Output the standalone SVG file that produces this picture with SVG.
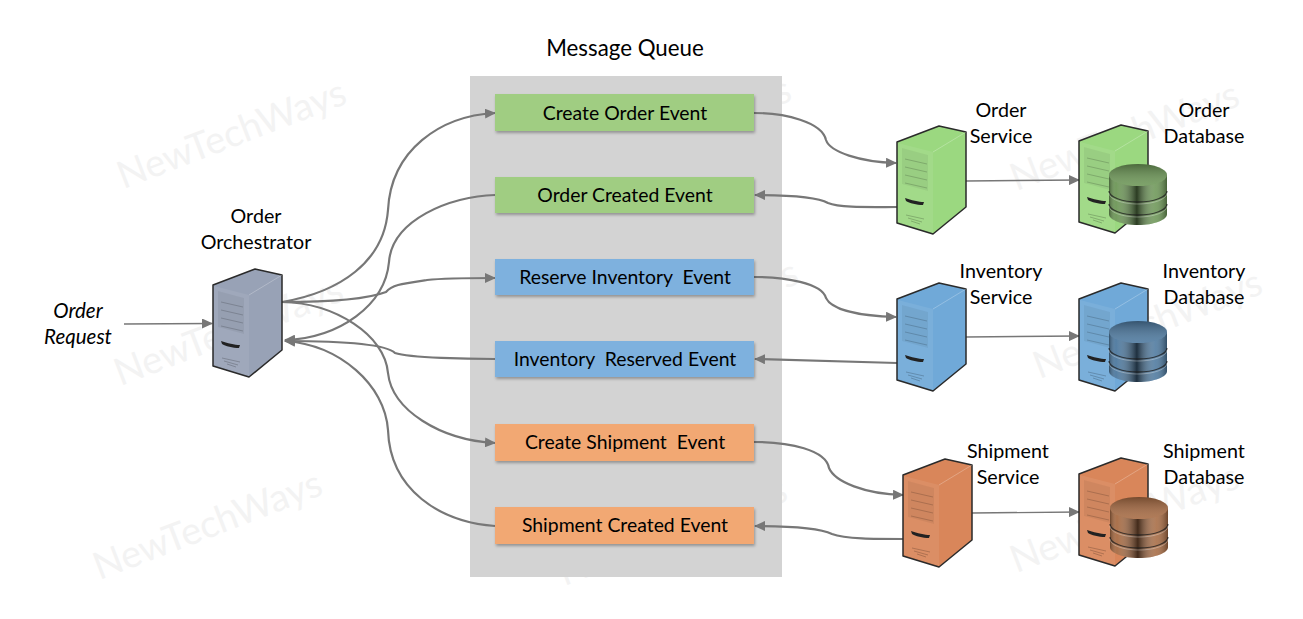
<svg xmlns="http://www.w3.org/2000/svg" width="1303" height="619" viewBox="0 0 1303 619">
<style>
text{font-family:"Lato","Liberation Sans",sans-serif;fill:#000;text-anchor:middle;white-space:pre}
.t{font-size:19.700px}
.ev{font-size:19.400px}
.wm{font-size:38px;fill:#f3f3f3}
.c{fill:none;stroke:#777;stroke-width:2.200}
.thin{stroke-width:1.400}
.a{marker-end:url(#ah)}
.box{filter:url(#sh)}
.green{color:#9bd880}
.blue{color:#70a9d8}
.orange{color:#d9865a}
.gray{color:#98a2b6}
</style>
<defs>
<marker id="ah" viewBox="0 0 11 10" refX="10" refY="5" markerWidth="11" markerHeight="10" markerUnits="userSpaceOnUse" orient="auto"><path d="M0 0L11 5L0 10Z" fill="#777"/></marker>
<filter id="sh" x="-5%" y="-20%" width="110%" height="150%"><feDropShadow dx="1" dy="2" stdDeviation="1.500" flood-color="#000" flood-opacity=".3"/></filter>
<linearGradient id="cg" x1="0" x2="1" y1="0" y2="0"><stop offset="0" stop-color="#000" stop-opacity=".35"/><stop offset=".12" stop-color="#fff" stop-opacity=".05"/><stop offset=".48" stop-color="#000" stop-opacity=".6"/><stop offset=".8" stop-color="#fff" stop-opacity=".12"/><stop offset="1" stop-color="#000" stop-opacity=".35"/></linearGradient>
<linearGradient id="ct" x1="0" x2="0" y1="0" y2="1"><stop offset="0" stop-color="#000" stop-opacity=".3"/><stop offset="1" stop-color="#fff" stop-opacity=".12"/></linearGradient>
<g id="server">
<path d="M0 16L42 0L69 6L69 81L36 108L0 97Z" fill="currentColor" stroke="#2a2a2a" stroke-width="1.500" stroke-linejoin="round"/>
<path d="M1 17L36 26L36 107L1 96Z" fill="#fff" fill-opacity=".07"/>
<path d="M36 26L69 6" stroke="#fff" stroke-opacity=".25" fill="none"/>
<path d="M5 22L31 29L31 65L5 58Z" fill="#000" fill-opacity=".05"/>
<path d="M8 33L30 38M8 41L30 46M8 49L30 54M8 57L30 62" stroke="#000" stroke-opacity=".22" stroke-width=".8" fill="none"/>
<path d="M8 72C14 74 22 76 27 76L26 79C20 79 12 77 9 75Z" fill="#222"/>
<path d="M9 89L27 93M11 92L25 96M14 95L23 98" stroke="#000" stroke-opacity=".2" stroke-width="1" fill="none"/>
</g>
<g id="cyl">
<path d="M0 11V50C0 56 13 61 29 61S58 56 58 50V11Z" fill="currentColor"/>
<path d="M0 11V50C0 56 13 61 29 61S58 56 58 50V11Z" fill="url(#cg)"/>
<ellipse cx="29" cy="11" rx="29" ry="11" fill="currentColor"/>
<ellipse cx="29" cy="11" rx="29" ry="11" fill="url(#ct)"/>
<path d="M0 27C0 33 13 38 29 38S58 33 58 27M0 40C0 46 13 51 29 51S58 46 58 40" fill="none" stroke="#1d1d1d" stroke-opacity=".75" stroke-width="1.300"/>
<path d="M0 29C0 35 13 40 29 40S58 35 58 29M0 42C0 48 13 53 29 53S58 48 58 42" fill="none" stroke="#fff" stroke-opacity=".3" stroke-width="1"/>
</g>
</defs>
<rect width="1303" height="619" fill="#fff"/>
<g id="watermarks">
<text class="wm" transform="rotate(-21 231 133)" x="231" y="147">NewTechWays</text>
<text class="wm" transform="rotate(-21 228 330)" x="228" y="344">NewTechWays</text>
<text class="wm" transform="rotate(-21 207 524)" x="207" y="538">NewTechWays</text>
<text class="wm" transform="rotate(-21 1124 135)" x="1124" y="149">NewTechWays</text>
<text class="wm" transform="rotate(-21 1147 323)" x="1147" y="337">NewTechWays</text>
<text class="wm" transform="rotate(-21 1124 517)" x="1124" y="531">NewTechWays</text>
<text class="wm" transform="rotate(-21 676 130)" x="676" y="144">NewTechWays</text>
<text class="wm" transform="rotate(-21 683 313)" x="683" y="327">NewTechWays</text>
<text class="wm" transform="rotate(-21 672 530)" x="672" y="544">NewTechWays</text>
</g>
<g id="queue">
<rect x="470" y="76" width="312" height="501" fill="#d3d3d3"/>
<text x="625" y="56" style="font-size:22.300px">Message Queue</text>
</g>
<g id="connectors">
<path class="c thin a" d="M124 324L212 323.500"/>
<path class="c a" d="M282 302C340 292 384 262 388 210C391 150 440 116 495 113"/>
<path class="c a" d="M495 195C450 196 392 220 389 262C385 305 340 338 285 340"/>
<path class="c a" d="M282 302C320 302 365 300 386 292C392 285 400 284 427 280C445 278 470 278 495 278"/>
<path class="c a" d="M495 359C470 359 410 358 395 353C385 343 330 341 285 341"/>
<path class="c a" d="M282 302C335 303 385 335 388 373C392 410 440 440 495 443"/>
<path class="c a" d="M495 526C440 522 390 490 388 430C385 385 340 345 285 341"/>
<path class="c a" d="M754 113C785 113 822 122 826 140C830 152 860 162 896 163"/>
<path class="c a" d="M897 207C870 207 840 208 828 203C818 197 790 195 755 195"/>
<path class="c a" d="M754 277C785 277 822 283 826 298C832 310 860 316 896 317"/>
<path class="c a" d="M897 363L755 359"/>
<path class="c a" d="M754 442C790 442 826 450 829 468C835 482 865 494 903 495"/>
<path class="c a" d="M904 539C875 539 845 539 832 534C820 528 790 526 755 526"/>
<path class="c thin a" d="M966 181L1079 180"/>
<path class="c thin a" d="M966 337L1079 336"/>
<path class="c thin a" d="M972 513L1079 512"/>
</g>
<g id="request"><text x="78" y="318" font-style="italic" style="font-size:20.500px">Order</text><text x="78" y="344" font-style="italic" style="font-size:20.500px">Request</text></g>
<g id="orchestrator" class="gray"><use href="#server" x="213" y="269"/><text class="t" x="256" y="223">Order</text><text class="t" x="256" y="249">Orchestrator</text></g>
<g id="ev1"><rect class="box" x="495" y="94" width="259" height="37" fill="#a0cd82"/><text class="ev" x="625" y="120">Create Order Event</text></g>
<g id="ev2"><rect class="box" x="495" y="177" width="259" height="36" fill="#a0cd82"/><text class="ev" x="625" y="202">Order Created Event</text></g>
<g id="ev3"><rect class="box" x="495" y="259" width="259" height="36" fill="#7eb1de"/><text class="ev" x="625" y="284" xml:space="preserve">Reserve Inventory  Event</text></g>
<g id="ev4"><rect class="box" x="495" y="341" width="259" height="36" fill="#7eb1de"/><text class="ev" x="625" y="366" xml:space="preserve">Inventory  Reserved Event</text></g>
<g id="ev5"><rect class="box" x="495" y="424" width="259" height="37" fill="#f2a873"/><text class="ev" x="625" y="449" xml:space="preserve">Create Shipment  Event</text></g>
<g id="ev6"><rect class="box" x="495" y="507" width="259" height="37" fill="#f2a873"/><text class="ev" x="625" y="532">Shipment Created Event</text></g>
<g id="order-service" class="green"><use href="#server" x="897" y="126"/><text class="t" x="1001" y="117">Order</text><text class="t" x="1001" y="143">Service</text></g>
<g id="order-db" class="green"><use href="#server" x="1079" y="125"/><use href="#cyl" x="1109" y="164" style="color:#6c9656"/><text class="t" x="1204" y="117">Order</text><text class="t" x="1204" y="143">Database</text></g>
<g id="inventory-service" class="blue"><use href="#server" x="897" y="283"/><text class="t" x="1001" y="278">Inventory</text><text class="t" x="1001" y="304">Service</text></g>
<g id="inventory-db" class="blue"><use href="#server" x="1079" y="283"/><use href="#cyl" x="1109" y="321" style="color:#4c789e"/><text class="t" x="1204" y="278">Inventory</text><text class="t" x="1204" y="304">Database</text></g>
<g id="shipment-service" class="orange"><use href="#server" x="903" y="459"/><text class="t" x="1008" y="458">Shipment</text><text class="t" x="1008" y="484">Service</text></g>
<g id="shipment-db" class="orange"><use href="#server" x="1079" y="458"/><use href="#cyl" x="1110" y="497" style="color:#a66a42"/><text class="t" x="1204" y="458">Shipment</text><text class="t" x="1204" y="484">Database</text></g>
</svg>
